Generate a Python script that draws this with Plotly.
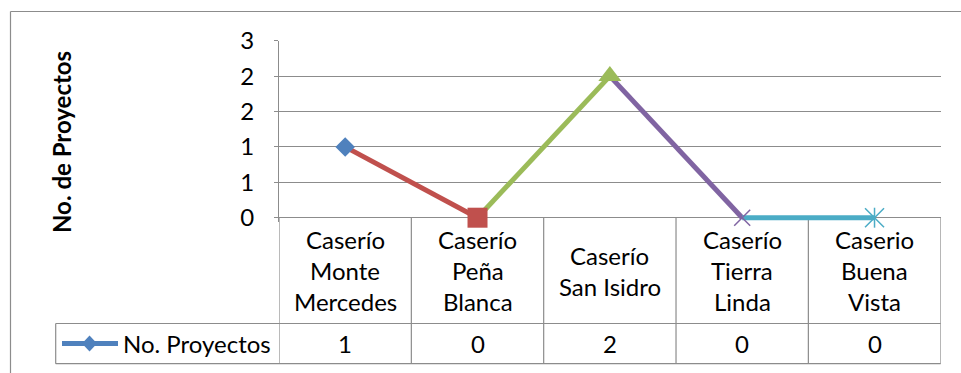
import plotly.graph_objects as go

# ---- data -------------------------------------------------------------
categories = [
    "Caserío Monte Mercedes",
    "Caserío Peña Blanca",
    "Caserío San Isidro",
    "Caserío Tierra Linda",
    "Caserio Buena Vista",
]
# how each category name is broken into lines in the data table
category_lines = [
    ["Caserío", "Monte", "Mercedes"],
    ["Caserío", "Peña", "Blanca"],
    ["Caserío", "San Isidro"],
    ["Caserío", "Tierra", "Linda"],
    ["Caserio", "Buena", "Vista"],
]
series_name = "No. Proyectos"
values = [1, 0, 2, 0, 0]

y_tick_vals = [0, 0.5, 1, 1.5, 2, 2.5]
y_tick_text = ["0", "1", "1", "2", "2", "3"]
y_title = "No. de Proyectos"

# ---- styling ----------------------------------------------------------
W, H = 961, 373
FONT = "Lato"
FS = 24
GRID = "#8c8c8c"
point_colors = ["#4F81BD", "#C0504D", "#9BBB59", "#8064A2", "#4BACC6"]
point_symbols = ["diamond", "square", "triangle-up", "x-thin", "star"]
point_sizes = [15, 20, 20, 16, 19]

# plot-area edges in pixels
PL, PR, PT, PB = 279, 940.7, 40.7, 217.7
ROW_TOP, ROW_BOT = 323.5, 363.7     # values row of the data table
LEG_LEFT = 55.7                      # left edge of legend cell
Y_MAX = 2.5
PAD = 4                              # room under zero so thick lines are not cut
y_low = -PAD * Y_MAX / (PB - PT)


def px(x):
    return x / W


def py(y):
    return 1 - y / H


fig = go.Figure()

# line segments, each coloured like the point it ends on
for i in range(len(values) - 1):
    fig.add_trace(go.Scatter(
        x=[i, i + 1], y=[values[i], values[i + 1]],
        mode="lines",
        line=dict(color=point_colors[i + 1], width=5),
        showlegend=False, hoverinfo="skip", cliponaxis=False,
    ))

# point markers
for i, v in enumerate(values):
    sym = point_symbols[i]
    c = point_colors[i]
    if sym == "star":
        # asterisk: an X crossed by a vertical stroke
        for s, sz in (("x-thin", point_sizes[i]), ("line-ns", point_sizes[i] * 0.75)):
            fig.add_trace(go.Scatter(
                x=[i], y=[v], mode="markers",
                marker=dict(symbol=s, size=sz, color=c,
                            line=dict(color=c, width=1.5)),
                showlegend=False, cliponaxis=False,
            ))
    elif sym == "x-thin":
        fig.add_trace(go.Scatter(
            x=[i], y=[v], mode="markers",
            marker=dict(symbol=sym, size=point_sizes[i], color=c,
                        line=dict(color=c, width=1.5)),
            showlegend=False, cliponaxis=False,
        ))
    else:
        fig.add_trace(go.Scatter(
            x=[i], y=[v], mode="markers",
            marker=dict(symbol=sym, size=point_sizes[i], color=c,
                        line=dict(width=0)),
            showlegend=False, cliponaxis=False,
        ))

n = len(categories)
shapes = []
line_style = dict(color=GRID, width=1.2)

# outer chart frame (left and top edges)
shapes.append(dict(type="line", xref="paper", yref="paper",
                   x0=px(10.5), x1=px(10.5), y0=py(11.5), y1=0, line=line_style))
shapes.append(dict(type="line", xref="paper", yref="paper",
                   x0=px(10.5), x1=1, y0=py(11.5), y1=py(11.5), line=line_style))

# data table: column separators
for k in range(n + 1):
    shapes.append(dict(type="line", xref="x", yref="paper",
                       x0=k - 0.5, x1=k - 0.5, y0=py(PB), y1=py(ROW_BOT),
                       line=line_style, layer="below"))
# data table: row lines and legend cell
for yy in (ROW_TOP, ROW_BOT):
    shapes.append(dict(type="line", xref="paper", yref="paper",
                       x0=px(LEG_LEFT), x1=px(PR), y0=py(yy), y1=py(yy),
                       line=line_style))
shapes.append(dict(type="line", xref="paper", yref="paper",
                   x0=px(LEG_LEFT), x1=px(LEG_LEFT), y0=py(ROW_TOP), y1=py(ROW_BOT),
                   line=line_style))

# legend key: line with a diamond
leg_y = 343.5
shapes.append(dict(type="line", xref="paper", yref="paper",
                   x0=px(62), x1=px(118), y0=py(leg_y), y1=py(leg_y),
                   line=dict(color=point_colors[0], width=5)))
shapes.append(dict(type="path", xref="paper", yref="paper",
                   xsizemode="pixel", ysizemode="pixel",
                   xanchor=px(89.5), yanchor=py(leg_y),
                   path="M -7.5 0 L 0 8 L 7.5 0 L 0 -8 Z",
                   fillcolor=point_colors[0], line=dict(width=0)))

annotations = []
text_font = dict(family=FONT, size=FS, color="black")

# category names in the table
LABEL_MID = (PB + ROW_TOP) / 2
LINE_H = 31
for i, lines in enumerate(category_lines):
    m = len(lines)
    for j, t in enumerate(lines):
        yc = LABEL_MID + (j - (m - 1) / 2) * LINE_H
        annotations.append(dict(x=i, xref="x", y=py(yc), yref="paper",
                                text=t, showarrow=False, font=text_font,
                                xanchor="center", yanchor="middle"))

# value row
ROW_MID = (ROW_TOP + ROW_BOT) / 2
for i, v in enumerate(values):
    annotations.append(dict(x=i, xref="x", y=py(ROW_MID), yref="paper",
                            text=str(v), showarrow=False, font=text_font,
                            xanchor="center", yanchor="middle"))

# legend text
annotations.append(dict(x=px(121), xref="paper", y=py(ROW_MID), yref="paper",
                        text=series_name, showarrow=False, font=text_font,
                        xanchor="left", yanchor="middle"))

# y-axis title
annotations.append(dict(x=px(61), xref="paper", y=py(142), yref="paper",
                        text="<b>" + y_title + "</b>", textangle=-90,
                        showarrow=False, font=text_font,
                        xanchor="center", yanchor="middle"))

fig.update_layout(
    width=W, height=H,
    margin=dict(l=0, r=0, t=0, b=0, autoexpand=False),
    paper_bgcolor="white", plot_bgcolor="white",
    showlegend=False,
    xaxis=dict(domain=[px(PL), px(PR)], range=[-0.5, n - 0.5],
               showgrid=False, zeroline=False, showticklabels=False,
               ticks="", showline=False,
               automargin=False, fixedrange=True),
    yaxis=dict(domain=[py(PB + PAD), py(PT)], range=[y_low, Y_MAX],
               tickvals=y_tick_vals, ticktext=y_tick_text,
               showgrid=True, gridcolor=GRID, gridwidth=1.2,
               zeroline=False, showline=True, linecolor=GRID, linewidth=1.2,
               ticks="outside", ticklen=4, tickcolor=GRID, tickwidth=1.2,
               ticklabelstandoff=15, automargin=False,
               tickfont=text_font, fixedrange=True, layer="below traces"),
    shapes=shapes,
    annotations=annotations,
)

fig.write_html("out.html")
